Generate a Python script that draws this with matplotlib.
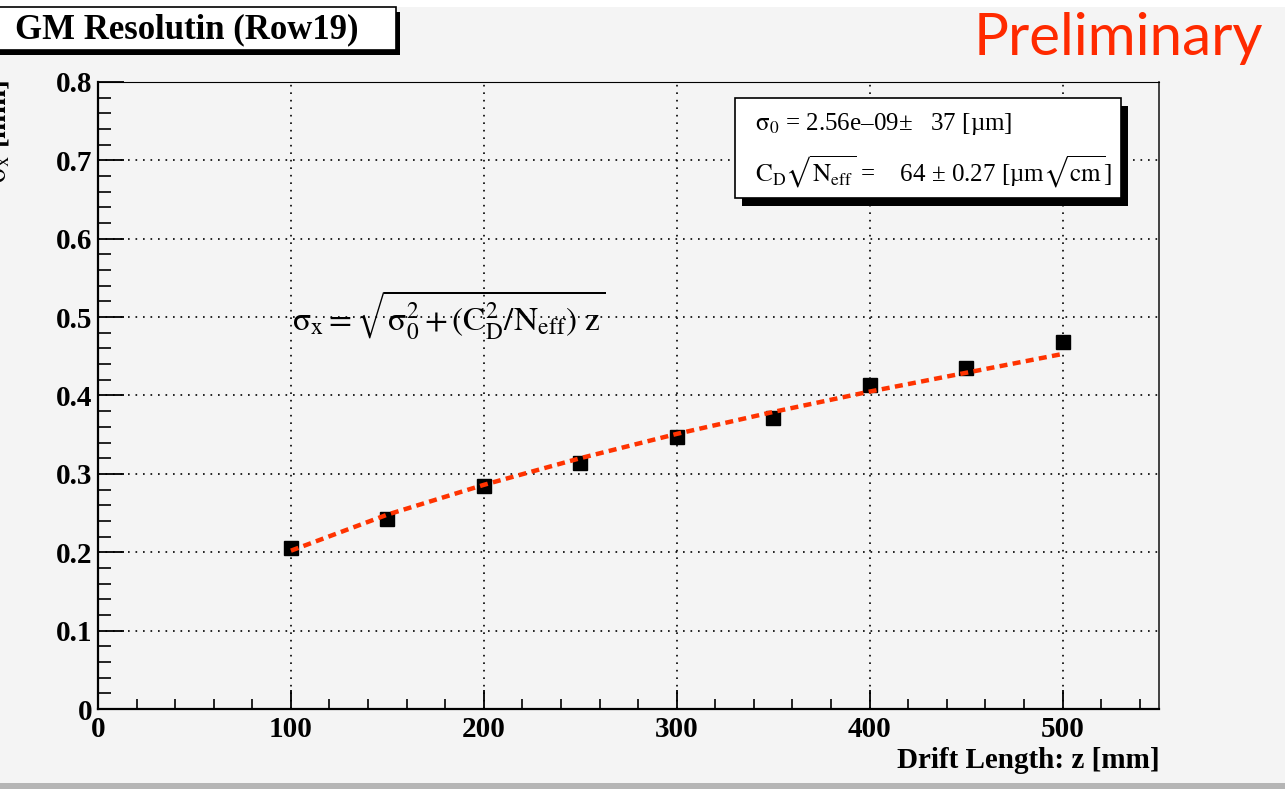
import matplotlib.pyplot as plt
from matplotlib.patches import Rectangle
from matplotlib.ticker import MultipleLocator

# measured resolution per drift length bin
drift_z = [100, 150, 200, 250, 300, 350, 400, 450, 500]
sigma_x = [0.205, 0.243, 0.284, 0.314, 0.347, 0.371, 0.414, 0.435, 0.468]

# fit curve (sigma0 ~ 0, C_D/sqrt(N_eff) = 64 um/sqrt(cm))
fit_z = [100, 150, 200, 250, 300, 350, 400, 450, 500]
fit_y = [0.202, 0.248, 0.286, 0.320, 0.351, 0.379, 0.405, 0.429, 0.453]

x_ticks = [0, 100, 200, 300, 400, 500]
y_ticks = [0, 0.1, 0.2, 0.3, 0.4, 0.5, 0.6, 0.7, 0.8]
y_ticklabels = ['0', '0.1', '0.2', '0.3', '0.4', '0.5', '0.6', '0.7', '0.8']

title = 'GM Resolutin (Row19)'
stat_line1 = r'$\mathrm{σ_{0}}$ = 2.56e–09±   37 [µm]'
stat_line2 = r'$\mathrm{C_{D}}\sqrt{\mathrm{N_{eff}}}$ =    64 ± 0.27 [µm$\sqrt{\mathrm{cm}}$]'
formula = r'$\mathrm{σ_{x}} = \sqrt{\mathrm{σ_{0}^{2}}+(\mathrm{C_{D}^{2}}/\mathrm{N_{eff}})\ \mathrm{z}}$'

plt.rcParams['font.family'] = ['Liberation Serif', 'DejaVu Serif']
plt.rcParams['mathtext.fontset'] = 'stix'

W, H = 1285, 789
BG = '#f4f4f4'
RED = '#ff3300'


def fx(px):
    return px / W


def fy(py):
    return 1 - py / H


def box(x0, y0, x1, y1, shadow):
    # ROOT style pave: black shadow then white box on top
    fig.add_artist(Rectangle((fx(x0 + shadow[0]), fy(y1 + shadow[1])),
                             (x1 - x0) / W, (y1 - y0) / H,
                             transform=fig.transFigure, facecolor='black',
                             edgecolor='none', zorder=5))
    fig.add_artist(Rectangle((fx(x0), fy(y1)), (x1 - x0) / W, (y1 - y0) / H,
                             transform=fig.transFigure, facecolor='white',
                             edgecolor='black', linewidth=1.2, zorder=6))


fig = plt.figure(figsize=(12.85, 7.89), dpi=100, facecolor=BG)
ax = fig.add_axes([fx(98), fy(709), (1159 - 98) / W, (709 - 82) / H])
ax.set_facecolor(BG)

# top white strip and bottom grey bar of the canvas
fig.add_artist(Rectangle((0, fy(7)), 1, 7 / H, transform=fig.transFigure,
                         facecolor='white', edgecolor='none', zorder=0))
fig.add_artist(Rectangle((0, 0), 1, 6 / H, transform=fig.transFigure,
                         facecolor='#b5b5b5', edgecolor='none', zorder=0))

ax.plot(fit_z, fit_y, color=RED, linewidth=3.2, linestyle=(0, (1.8, 1.2)), zorder=4)
ax.plot(drift_z, sigma_x, linestyle='none', marker='s', markersize=9.5,
        color='black', zorder=3)

ax.set_xlim(0, 550)
ax.set_ylim(0, 0.8)
ax.set_xticks(x_ticks)
ax.set_xticklabels([str(v) for v in x_ticks])
ax.set_yticks(y_ticks)
ax.set_yticklabels(y_ticklabels)
ax.xaxis.set_minor_locator(MultipleLocator(20))
ax.yaxis.set_minor_locator(MultipleLocator(0.02))

ax.grid(True, which='major', color='black', linestyle=(0, (1, 3.5)), linewidth=1.2)
ax.tick_params(axis='x', which='major', direction='in', length=14, width=1.3,
               labelsize=21, pad=5, top=False)
ax.tick_params(axis='x', which='minor', direction='in', length=7, width=1.2, top=False)
ax.tick_params(axis='y', which='major', direction='in', length=19, width=1.3,
               labelsize=21, pad=4, right=False)
ax.tick_params(axis='y', which='minor', direction='in', length=9.5, width=1.2, right=False)
for lab in ax.get_xticklabels() + ax.get_yticklabels():
    lab.set_fontweight('bold')

ax.spines['left'].set_linewidth(1.6)
ax.spines['bottom'].set_linewidth(1.6)
ax.spines['top'].set_linewidth(0.8)
ax.spines['right'].set_linewidth(1.2)
ax.spines['right'].set_color('#222222')

# axis titles
fig.text(fx(1160), fy(768), 'Drift Length: z [mm]', ha='right', va='baseline',
         fontsize=21, fontweight='bold')
fig.text(fx(12), fy(80), r'$\mathrm{σ_{x}}$ [mm]', rotation=90, ha='right', va='top',
         fontsize=21, fontweight='bold')

# title pave
box(-5, 7, 396, 50, (4, 5))
fig.text(fx(15), fy(38), title, ha='left', va='baseline', fontsize=25,
         fontweight='bold', zorder=7)

# fit stats pave
box(735, 98, 1121, 198, (7, 8))
fig.text(fx(755), fy(130), stat_line1, ha='left', va='baseline', fontsize=18, zorder=7)
fig.text(fx(755), fy(182), stat_line2, ha='left', va='baseline', fontsize=18, zorder=7)

# fit function
ax.text(fx(292), fy(331), formula, transform=fig.transFigure, ha='left',
        va='baseline', fontsize=24, zorder=7)

fig.text(fx(1263), fy(55), 'Preliminary', ha='right', va='baseline',
         fontsize=42, color='#ff2a00', family='Lato')

fig.savefig('out.png', dpi=100, facecolor=BG)
